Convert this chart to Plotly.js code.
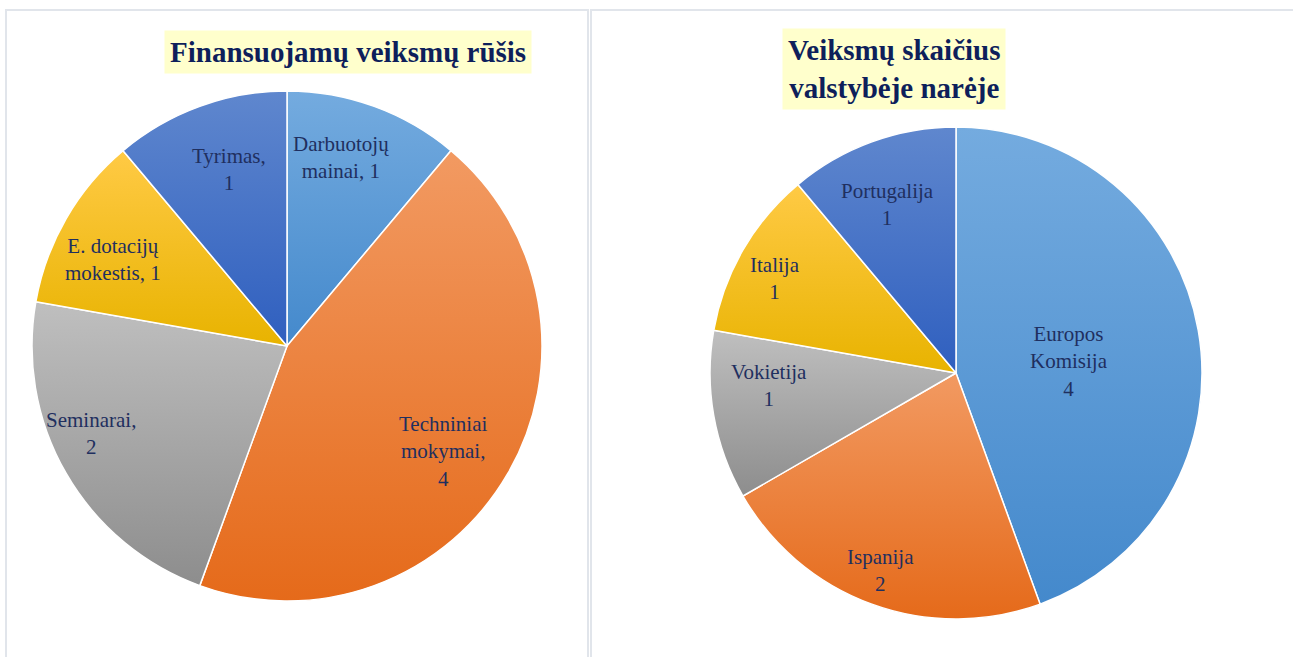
<!DOCTYPE html>
<html>
<head>
<meta charset="utf-8">
<script src="https://cdn.plot.ly/plotly-3.0.1.min.js"></script>
<style>
html,body{margin:0;padding:0;background:#fff;}
#chart{width:1293px;height:657px;}
</style>
</head>
<body>
<div id="chart"></div>
<script>
// ---- data ----
const leftTitle = "Finansuojamų veiksmų rūšis";
const leftNames = ["Darbuotojų mainai", "Techniniai mokymai", "Seminarai", "E. dotacijų mokestis", "Tyrimas"];
const leftLabels = ["Darbuotojų<br>mainai, 1", "Techniniai<br>mokymai,<br>4", "Seminarai,<br>2", "E. dotacijų<br>mokestis, 1", "Tyrimas,<br>1"];
const leftValues = [1, 4, 2, 1, 1];

const rightTitle = "Veiksmų skaičius<br>valstybėje narėje";
const rightNames = ["Europos Komisija", "Ispanija", "Vokietija", "Italija", "Portugalija"];
const rightLabels = ["Europos<br>Komisija<br>4", "Ispanija<br>2", "Vokietija<br>1", "Italija<br>1", "Portugalija<br>1"];
const rightValues = [4, 2, 1, 1, 1];

// ---- styling ----
const sliceColors = ["#5b9bd5", "#ed7d31", "#a5a5a5", "#ffc000", "#4472c4"];
const gradTop = ["#74abdf", "#f29a62", "#bfbfbf", "#ffca45", "#5f87ce"];
const gradBottom = ["#4489cc", "#e56a1a", "#8d8d8d", "#e8b300", "#2f5fbf"];
// label placement (Excel "best fit" look): distance from centre as fraction of radius,
// and small angular nudge (degrees) from the slice's mid-angle
const leftLabelRadius = [0.77, 0.74, 0.84, 0.76, 0.73];
const leftLabelShift = [-4, 4, 6, -3.6, 1.7];
const rightLabelRadius = [0.46, 0.86, 0.76, 0.83, 0.74];
const rightLabelShift = [4.4, 1, 6.3, -2.4, -2];

const W = 1293, H = 657;
const textColor = "#1f2f5f";
const labelFont = {family: "Liberation Serif, Times New Roman, serif", size: 21, color: textColor};
const titleFont = {family: "Liberation Serif, Times New Roman, serif", size: 29, color: "#0e1f5b", weight: "bold"};

const leftDomain = {x: [32 / W, 542 / W], y: [1 - 601 / H, 1 - 91 / H]};
const rightDomain = {x: [710 / W, 1202 / W], y: [1 - 619 / H, 1 - 127 / H]};

function pieTrace(names, values, domain) {
  return {
    type: "pie",
    labels: names,
    values: values,
    textinfo: "none",
    sort: false,
    direction: "clockwise",
    rotation: 0,
    marker: {colors: sliceColors, line: {color: "#ffffff", width: 1.5}},
    domain: domain,
    hoverinfo: "label+value",
    showlegend: false
  };
}

// labels placed around each slice's mid-angle (computed from the values)
function sliceLabels(values, texts, radii, shifts, domain) {
  const total = values.reduce((a, b) => a + b, 0);
  const cx = (domain.x[0] + domain.x[1]) / 2 * W;
  const cy = (1 - (domain.y[0] + domain.y[1]) / 2) * H;
  const R = Math.min((domain.x[1] - domain.x[0]) * W, (domain.y[1] - domain.y[0]) * H) / 2;
  let cum = 0;
  return values.map(function (v, i) {
    const mid = (cum + v / 2) / total * 2 * Math.PI + shifts[i] * Math.PI / 180;
    cum += v;
    const px = cx + radii[i] * R * Math.sin(mid);
    const py = cy - radii[i] * R * Math.cos(mid);
    return {
      text: texts[i], xref: "paper", yref: "paper", x: px / W, y: 1 - py / H,
      xanchor: "center", yanchor: "middle", showarrow: false, font: labelFont, align: "center"
    };
  });
}

const layout = {
  width: W, height: H,
  margin: {l: 0, r: 0, t: 0, b: 0},
  paper_bgcolor: "#ffffff",
  showlegend: false,
  shapes: [
    {type: "rect", xref: "paper", yref: "paper", x0: 6 / W, x1: 588 / W, y0: -0.05, y1: 1 - 10 / H,
     line: {color: "#e1e5eb", width: 2}, fillcolor: "rgba(0,0,0,0)"},
    {type: "rect", xref: "paper", yref: "paper", x0: 591 / W, x1: 1.05, y0: -0.05, y1: 1 - 10 / H,
     line: {color: "#e1e5eb", width: 2}, fillcolor: "rgba(0,0,0,0)"}
  ],
  annotations: [
    {text: "<b>" + leftTitle + "</b>", xref: "paper", yref: "paper", x: 348 / W, y: 1 - 52 / H,
     xanchor: "center", yanchor: "middle", showarrow: false, font: titleFont,
     bgcolor: "#ffffcc", borderpad: 5},
    {text: "<b>" + rightTitle + "</b>", xref: "paper", yref: "paper", x: 894 / W, y: 1 - 69 / H,
     xanchor: "center", yanchor: "middle", showarrow: false, font: titleFont,
     bgcolor: "#ffffcc", borderpad: 5}
  ].concat(
    sliceLabels(leftValues, leftLabels, leftLabelRadius, leftLabelShift, leftDomain),
    sliceLabels(rightValues, rightLabels, rightLabelRadius, rightLabelShift, rightDomain)
  )
};

Plotly.newPlot("chart", [pieTrace(leftNames, leftValues, leftDomain), pieTrace(rightNames, rightValues, rightDomain)],
  layout, {displayModeBar: false, staticPlot: true}).then(function (gd) {
  // vertical gradient fills on slices (Office-style)
  const svg = gd.querySelector(".main-svg");
  const defs = svg.querySelector("defs");
  const ns = "http://www.w3.org/2000/svg";
  for (let i = 0; i < sliceColors.length; i++) {
    const g = document.createElementNS(ns, "linearGradient");
    g.setAttribute("id", "sg" + i);
    g.setAttribute("x1", "0"); g.setAttribute("y1", "0");
    g.setAttribute("x2", "0"); g.setAttribute("y2", "1");
    const s1 = document.createElementNS(ns, "stop");
    s1.setAttribute("offset", "0"); s1.setAttribute("stop-color", gradTop[i]);
    const s2 = document.createElementNS(ns, "stop");
    s2.setAttribute("offset", "1"); s2.setAttribute("stop-color", gradBottom[i]);
    g.appendChild(s1); g.appendChild(s2);
    defs.appendChild(g);
  }
  gd.querySelectorAll(".trace").forEach(function (tr) {
    tr.querySelectorAll(".slice").forEach(function (sl, i) {
      const p = sl.querySelector("path.surface");
      if (p) p.style.fill = "url(#sg" + i + ")";
    });
  });
});
</script>
</body>
</html>
